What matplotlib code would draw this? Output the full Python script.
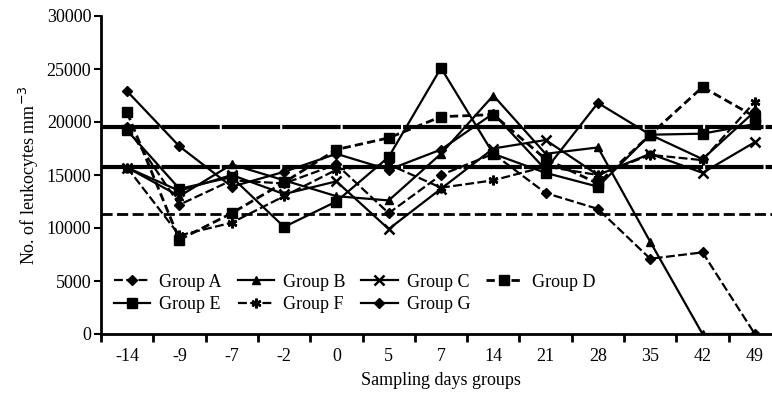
import matplotlib
matplotlib.use('Agg')
import matplotlib.pyplot as plt

plt.rcParams['font.family'] = ['Liberation Serif', 'DejaVu Serif']

# Дни отбора проб
days = ['-14', '-9', '-7', '-2', '0', '5', '7', '14', '21', '28', '35', '42', '49']

# Число лейкоцитов по группам (оценка по рисунку)
group_a = [19500, 12200, 14500, 14200, 16000, 11400, 15000, 17000, 13300, 11800, 7100, 7700, 0]
group_b = [15700, 13000, 16000, 14500, 13000, 12600, 17000, 22500, 17000, 17600, 8700, 0, 0]
group_c = [15700, 13500, 15000, 13200, 14400, 9900, 13700, 17500, 18300, 15000, 17000, 15200, 18100]
group_d = [20900, 8900, 11400, 14300, 17400, 18500, 20500, 20700, 16500, 14200, 18800, 23300, 20500]
group_e = [19200, 13700, 14800, 10100, 12500, 16700, 25100, 17000, 15200, 13900, 18800, 18900, 19800]
group_f = [15700, 9300, 10500, 13000, 15500, 16000, 13800, 14500, 15800, 15000, 16900, 16400, 21900]
group_g = [22900, 17700, 13900, 15300, 17000, 15500, 17400, 20800, 15500, 21800, 18800, 16500, 21000]

# Референсные уровни
ref_upper = 19500
ref_mid = 15800
ref_lower = 11300

fig = plt.figure(figsize=(7.72, 3.98), dpi=100)
ax = fig.add_axes([101 / 772, 64 / 398, 680 / 772, 318 / 398])

x = list(range(len(days)))

# Горизонтальные линии
ax.axhline(ref_upper, color='black', lw=3, dashes=(14, 0.5), zorder=1)
ax.axhline(ref_mid, color='black', lw=3, dashes=(14, 0.5), zorder=1)
ax.axhline(ref_lower, color='black', lw=2, dashes=(4, 1.6), zorder=1)

lw = 1.6
ms = 6
la, = ax.plot(x, group_a, color='black', lw=lw, ls=(0, (4, 1.5)), marker='D', ms=ms - 1, label='Group A')
lb, = ax.plot(x, group_b, color='black', lw=lw, marker='^', ms=ms, label='Group B')
lc, = ax.plot(x, group_c, color='black', lw=lw, marker='x', ms=ms + 1, mew=1.8, label='Group C')
ld, = ax.plot(x, group_d, color='black', lw=lw + 0.4, ls=(0, (3, 1.5)), marker='s', ms=ms + 1, label='Group D')
le, = ax.plot(x, group_e, color='black', lw=lw, marker='s', ms=ms + 1, label='Group E')
lf, = ax.plot(x, group_f, color='black', lw=lw, ls=(0, (4, 1.5)), marker=(6, 2, 0), ms=ms + 1, mew=1.8, label='Group F')
lg, = ax.plot(x, group_g, color='black', lw=lw, marker='D', ms=ms - 1, label='Group G')

ax.set_xlim(-0.5, 12.33)
ax.set_ylim(0, 30000)

ax.set_xticks(x)
ax.set_xticklabels(days)
ax.set_xticks([i - 0.5 for i in range(len(days) + 1)], minor=True)
ax.tick_params(axis='x', which='major', length=0, pad=10, labelsize=13)
ax.tick_params(axis='x', which='minor', length=6, width=2, direction='out')
ax.set_yticks([0, 5000, 10000, 15000, 20000, 25000, 30000])
ax.tick_params(axis='y', length=5, width=1.5, direction='out', labelsize=13, pad=2)

for s in ['top', 'right']:
    ax.spines[s].set_visible(False)
for s in ['left', 'bottom']:
    ax.spines[s].set_linewidth(2)

ax.set_xlabel('Sampling days groups', fontsize=13, labelpad=5)
ax.set_ylabel('No. of leukocytes mm$^{-3}$', fontsize=13, labelpad=4)

# Порядок элементов, чтобы строки легенды шли A B C D / E F G
handles = [la, le, lb, lf, lc, lg, ld]
ax.legend(handles=handles, labels=[h.get_label() for h in handles], ncol=4,
          loc='upper left', bbox_to_anchor=(0.0, 0.229), frameon=False,
          fontsize=13, handlelength=2.0, handletextpad=0.5, columnspacing=0.9,
          labelspacing=0.3, borderaxespad=0.3)

fig.savefig('out.png', dpi=100)
